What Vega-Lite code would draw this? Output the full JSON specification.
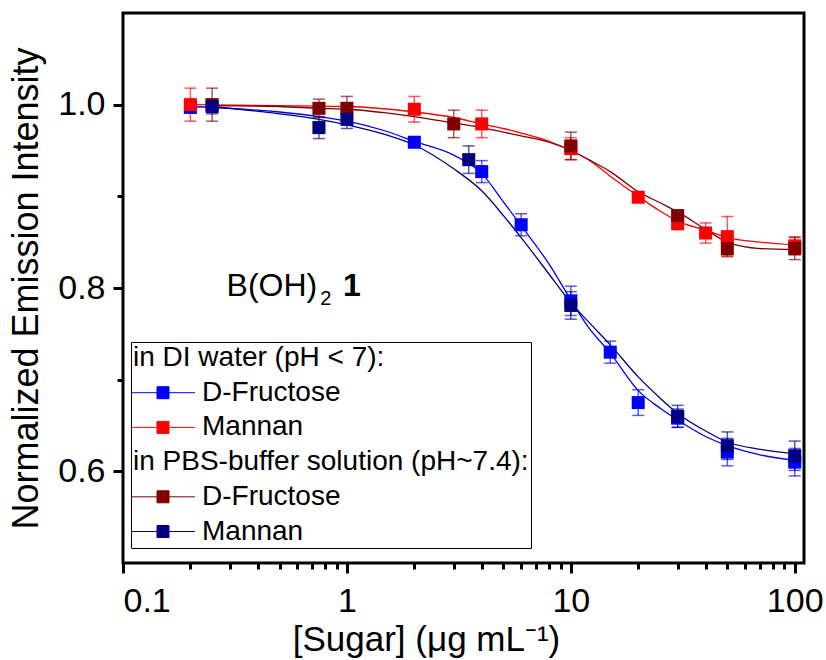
{
  "$schema": "https://vega.github.io/schema/vega-lite/v6.json",
  "width": 681,
  "height": 550,
  "autosize": "none",
  "padding": {"left": 123, "top": 13, "right": 22, "bottom": 97},
  "background": "white",
  "config": {
    "font": "Liberation Sans",
    "view": {"stroke": "black", "strokeWidth": 3},
    "axis": {
      "grid": false,
      "domain": false,
      "tickColor": "black",
      "labelColor": "black",
      "titleColor": "black",
      "labelFont": "Liberation Sans",
      "titleFont": "Liberation Sans",
      "titleFontWeight": "normal"
    }
  },
  "datasets": {
    "pts": [
      {"s": "dif", "x": 0.2, "y": 0.997, "e": 0.006},
      {"s": "dif", "x": 2, "y": 0.959, "e": 0.004},
      {"s": "dif", "x": 4, "y": 0.927, "e": 0.012},
      {"s": "dif", "x": 6, "y": 0.869, "e": 0.012},
      {"s": "dif", "x": 10, "y": 0.786, "e": 0.016},
      {"s": "dif", "x": 15, "y": 0.730, "e": 0.012},
      {"s": "dif", "x": 20, "y": 0.675, "e": 0.014},
      {"s": "dif", "x": 30, "y": 0.658, "e": 0.010},
      {"s": "dif", "x": 50, "y": 0.621, "e": 0.015},
      {"s": "dif", "x": 100, "y": 0.610, "e": 0.015},
      {"s": "dim", "x": 0.2, "y": 1.000, "e": 0.018},
      {"s": "dim", "x": 2, "y": 0.995, "e": 0.014},
      {"s": "dim", "x": 4, "y": 0.979, "e": 0.015},
      {"s": "dim", "x": 10, "y": 0.952, "e": 0.012},
      {"s": "dim", "x": 20, "y": 0.899, "e": 0.005},
      {"s": "dim", "x": 30, "y": 0.870, "e": 0.004},
      {"s": "dim", "x": 40, "y": 0.860, "e": 0.011},
      {"s": "dim", "x": 50, "y": 0.856, "e": 0.022},
      {"s": "dim", "x": 100, "y": 0.846, "e": 0.010},
      {"s": "pbf", "x": 0.25, "y": 1.000, "e": 0.018},
      {"s": "pbf", "x": 0.75, "y": 0.996, "e": 0.010},
      {"s": "pbf", "x": 1, "y": 0.996, "e": 0.013},
      {"s": "pbf", "x": 3, "y": 0.979, "e": 0.015},
      {"s": "pbf", "x": 10, "y": 0.955, "e": 0.015},
      {"s": "pbf", "x": 30, "y": 0.879, "e": 0.005},
      {"s": "pbf", "x": 50, "y": 0.843, "e": 0.008},
      {"s": "pbf", "x": 100, "y": 0.843, "e": 0.012},
      {"s": "pbm", "x": 0.25, "y": 0.998, "e": 0.008},
      {"s": "pbm", "x": 0.75, "y": 0.975, "e": 0.012},
      {"s": "pbm", "x": 1, "y": 0.984, "e": 0.010},
      {"s": "pbm", "x": 3.5, "y": 0.940, "e": 0.015},
      {"s": "pbm", "x": 10, "y": 0.781, "e": 0.015},
      {"s": "pbm", "x": 30, "y": 0.660, "e": 0.012},
      {"s": "pbm", "x": 50, "y": 0.628, "e": 0.015},
      {"s": "pbm", "x": 100, "y": 0.617, "e": 0.016}
    ],
    "curves": [
      {"s": "dif", "x": 0.2, "y": 0.998}, {"s": "dif", "x": 0.3, "y": 0.996}, {"s": "dif", "x": 0.5, "y": 0.992},
      {"s": "dif", "x": 0.75, "y": 0.987}, {"s": "dif", "x": 1, "y": 0.982}, {"s": "dif", "x": 1.5, "y": 0.971},
      {"s": "dif", "x": 2, "y": 0.960}, {"s": "dif", "x": 3, "y": 0.945}, {"s": "dif", "x": 4, "y": 0.925},
      {"s": "dif", "x": 5, "y": 0.894}, {"s": "dif", "x": 6, "y": 0.868}, {"s": "dif", "x": 8, "y": 0.826},
      {"s": "dif", "x": 10, "y": 0.787}, {"s": "dif", "x": 12, "y": 0.757}, {"s": "dif", "x": 15, "y": 0.729},
      {"s": "dif", "x": 20, "y": 0.688}, {"s": "dif", "x": 25, "y": 0.669}, {"s": "dif", "x": 30, "y": 0.656},
      {"s": "dif", "x": 40, "y": 0.638}, {"s": "dif", "x": 50, "y": 0.628}, {"s": "dif", "x": 70, "y": 0.618},
      {"s": "dif", "x": 100, "y": 0.612},
      {"s": "dim", "x": 0.2, "y": 1.000}, {"s": "dim", "x": 0.5, "y": 0.999}, {"s": "dim", "x": 1, "y": 0.998},
      {"s": "dim", "x": 2, "y": 0.992}, {"s": "dim", "x": 3, "y": 0.986}, {"s": "dim", "x": 4, "y": 0.979},
      {"s": "dim", "x": 5, "y": 0.974}, {"s": "dim", "x": 6, "y": 0.969}, {"s": "dim", "x": 8, "y": 0.960},
      {"s": "dim", "x": 10, "y": 0.950}, {"s": "dim", "x": 12, "y": 0.940}, {"s": "dim", "x": 15, "y": 0.922},
      {"s": "dim", "x": 20, "y": 0.900}, {"s": "dim", "x": 25, "y": 0.884}, {"s": "dim", "x": 30, "y": 0.873},
      {"s": "dim", "x": 40, "y": 0.863}, {"s": "dim", "x": 50, "y": 0.855}, {"s": "dim", "x": 70, "y": 0.850},
      {"s": "dim", "x": 100, "y": 0.847},
      {"s": "pbf", "x": 0.25, "y": 0.999}, {"s": "pbf", "x": 0.5, "y": 0.998}, {"s": "pbf", "x": 0.75, "y": 0.996},
      {"s": "pbf", "x": 1, "y": 0.995}, {"s": "pbf", "x": 1.5, "y": 0.991}, {"s": "pbf", "x": 2, "y": 0.987},
      {"s": "pbf", "x": 3, "y": 0.980}, {"s": "pbf", "x": 4, "y": 0.975}, {"s": "pbf", "x": 5, "y": 0.970},
      {"s": "pbf", "x": 6, "y": 0.966}, {"s": "pbf", "x": 8, "y": 0.959}, {"s": "pbf", "x": 10, "y": 0.950},
      {"s": "pbf", "x": 12, "y": 0.940}, {"s": "pbf", "x": 15, "y": 0.927}, {"s": "pbf", "x": 20, "y": 0.905},
      {"s": "pbf", "x": 25, "y": 0.893}, {"s": "pbf", "x": 30, "y": 0.883}, {"s": "pbf", "x": 40, "y": 0.864},
      {"s": "pbf", "x": 50, "y": 0.850}, {"s": "pbf", "x": 70, "y": 0.843}, {"s": "pbf", "x": 100, "y": 0.842},
      {"s": "pbm", "x": 0.25, "y": 0.998}, {"s": "pbm", "x": 0.5, "y": 0.990}, {"s": "pbm", "x": 0.75, "y": 0.984},
      {"s": "pbm", "x": 1, "y": 0.978}, {"s": "pbm", "x": 1.5, "y": 0.967}, {"s": "pbm", "x": 2, "y": 0.956},
      {"s": "pbm", "x": 3, "y": 0.930}, {"s": "pbm", "x": 4, "y": 0.906}, {"s": "pbm", "x": 5, "y": 0.879},
      {"s": "pbm", "x": 6, "y": 0.855}, {"s": "pbm", "x": 8, "y": 0.815}, {"s": "pbm", "x": 10, "y": 0.784},
      {"s": "pbm", "x": 12, "y": 0.763}, {"s": "pbm", "x": 15, "y": 0.738}, {"s": "pbm", "x": 20, "y": 0.703},
      {"s": "pbm", "x": 25, "y": 0.680}, {"s": "pbm", "x": 30, "y": 0.663}, {"s": "pbm", "x": 40, "y": 0.644},
      {"s": "pbm", "x": 50, "y": 0.632}, {"s": "pbm", "x": 70, "y": 0.624}, {"s": "pbm", "x": 100, "y": 0.619}
    ]
  },
  "resolve": {"axis": {"x": "independent", "y": "independent"}},
  "layer": [
    {
      "data": {"name": "curves"},
      "mark": {"type": "line", "strokeWidth": 1.3, "interpolate": "monotone"},
      "encoding": {
        "x": {
          "field": "x", "type": "quantitative",
          "scale": {"type": "log", "domain": [0.1, 110], "nice": false},
          "axis": {
            "orient": "bottom",
            "values": [0.2, 0.3, 0.4, 0.5, 0.6, 0.7, 0.8, 0.9, 2, 3, 4, 5, 6, 7, 8, 9, 20, 30, 40, 50, 60, 70, 80, 90],
            "labels": false, "title": null, "tickSize": 6, "tickWidth": 3
          }
        },
        "y": {
          "field": "y", "type": "quantitative",
          "scale": {"domain": [0.5, 1.1], "nice": false, "zero": false},
          "axis": {"orient": "left", "values": [0.7, 0.9], "labels": false, "title": null, "tickSize": 6, "tickWidth": 3}
        },
        "color": {
          "field": "s", "type": "nominal",
          "scale": {"domain": ["h1", "dif", "dim", "h2", "pbf", "pbm"], "range": ["transparent", "#0000ff", "#ff0000", "transparent", "#800000", "#000080"]}
        },
        "detail": {"field": "s"}
      }
    },
    {
      "data": {"name": "pts"},
      "mark": {"type": "errorbar", "ticks": {"size": 12}, "thickness": 1.5, "opacity": 0.65},
      "encoding": {
        "x": {"field": "x", "type": "quantitative", "axis": null},
        "y": {"field": "y", "type": "quantitative", "axis": null},
        "yError": {"field": "e"},
        "color": {"field": "s", "type": "nominal"}
      }
    },
    {
      "data": {"name": "pts"},
      "mark": {"type": "point", "shape": "square", "filled": true, "size": 170, "opacity": 1},
      "encoding": {
        "x": {
          "field": "x", "type": "quantitative",
          "axis": {
            "orient": "bottom", "values": [0.1, 1, 10, 100], "format": "~g",
            "labelFontSize": 34, "labelPadding": 11, "tickSize": 10, "tickWidth": 3,
            "title": "[Sugar] (μg mL⁻¹)", "titleFontSize": 35, "titleX": 303, "titlePadding": 4
          }
        },
        "y": {
          "field": "y", "type": "quantitative",
          "axis": {
            "orient": "left", "values": [0.6, 0.8, 1.0], "format": ".1f",
            "labelFontSize": 34, "labelPadding": 8, "tickSize": 10, "tickWidth": 3,
            "title": "Normalized Emission Intensity", "titleFontSize": 36, "titlePadding": 12
          }
        },
        "color": {
          "field": "s", "type": "nominal",
          "legend": {
            "orient": "none", "legendX": 8, "legendY": 329, "title": null,
            "symbolType": "M-3.2,0H3.2M-0.6,-0.6H0.6V0.6H-0.6Z",
            "symbolSize": 400, "symbolOffset": 16, "symbolStrokeWidth": 1, "symbolOpacity": 1,
            "labelFont": "Liberation Sans", "labelFontSize": 28, "labelColor": "black",
            "labelLimit": 0, "labelOffset": 25, "rowPadding": 6.7, "padding": 2,
            "strokeColor": "black", "fillColor": "white",
            "labelExpr": "datum.value == 'h1' ? 'in DI water (pH < 7):' : datum.value == 'h2' ? 'in PBS-buffer solution (pH~7.4):' : (datum.value == 'dif' || datum.value == 'pbf') ? 'D-Fructose' : 'Mannan'",
            "encode": {
              "labels": {"update": {"dx": {"signal": "datum.value == 'h1' || datum.value == 'h2' ? -69 : 0"}}}
            }
          }
        }
      }
    },
    {
      "data": {"values": [{}]},
      "mark": {"type": "text", "text": "B(OH)", "font": "Liberation Sans", "fontSize": 32, "align": "left", "baseline": "alphabetic", "color": "black"},
      "encoding": {"x": {"datum": 0.29, "type": "quantitative", "axis": null}, "y": {"datum": 0.791, "type": "quantitative", "axis": null}}
    },
    {
      "data": {"values": [{}]},
      "mark": {"type": "text", "text": "2", "font": "Liberation Sans", "fontSize": 20, "align": "left", "baseline": "alphabetic", "color": "black"},
      "encoding": {"x": {"datum": 0.76, "type": "quantitative", "axis": null}, "y": {"datum": 0.781, "type": "quantitative", "axis": null}}
    },
    {
      "data": {"values": [{}]},
      "mark": {"type": "text", "text": "1", "font": "Liberation Sans", "fontSize": 32, "fontWeight": "bold", "align": "left", "baseline": "alphabetic", "color": "black"},
      "encoding": {"x": {"datum": 0.96, "type": "quantitative", "axis": null}, "y": {"datum": 0.791, "type": "quantitative", "axis": null}}
    }
  ]
}
